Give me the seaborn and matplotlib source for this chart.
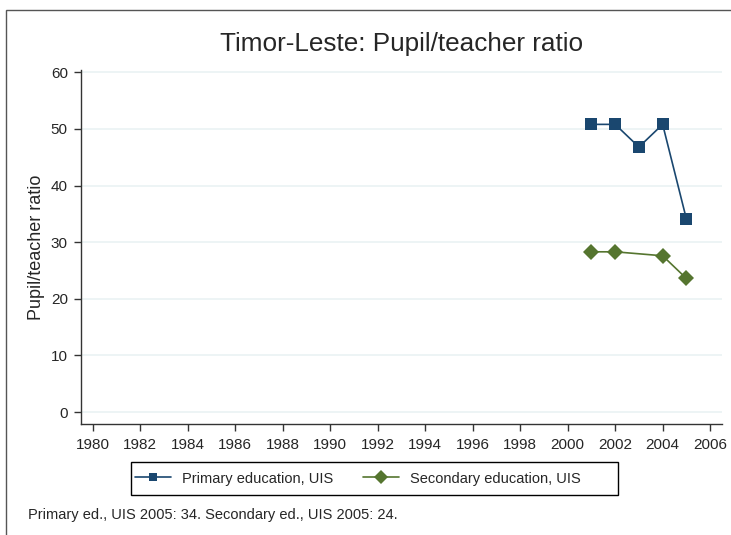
import pandas as pd
import matplotlib
matplotlib.use("Agg")
import matplotlib.pyplot as plt
import seaborn as sns
from matplotlib.patches import Rectangle

years_primary = [2001, 2002, 2003, 2004, 2005]
primary = [50.8, 50.8, 46.8, 50.8, 34.1]
years_secondary = [2001, 2002, 2004, 2005]
secondary = [28.3, 28.3, 27.6, 23.6]
series_names = ["Primary education, UIS", "Secondary education, UIS"]
x_ticks = list(range(1980, 2007, 2))
y_ticks = [0, 10, 20, 30, 40, 50, 60]

df = pd.concat([
    pd.DataFrame({"year": years_primary, "ratio": primary, "series": series_names[0]}),
    pd.DataFrame({"year": years_secondary, "ratio": secondary, "series": series_names[1]}),
])

sns.set_style("white")
plt.rcParams["font.family"] = ["Liberation Sans", "DejaVu Sans"]

fig = plt.figure(figsize=(7.31, 5.35), dpi=100)
ax = fig.add_axes([81 / 731, 1 - 424 / 535, (722 - 81) / 731, (424 - 70) / 535])

palette = {series_names[0]: "#1a476f", series_names[1]: "#55752f"}
markers = {series_names[0]: "s", series_names[1]: "D"}
sns.lineplot(data=df, x="year", y="ratio", hue="series", style="series",
             palette=palette, markers=markers, dashes=False, ax=ax,
             linewidth=1.2, markersize=8, markeredgewidth=0)

ax.set_xlim(1979.5, 2006.5)
ax.set_ylim(-2.1, 60.4)
ax.set_xticks(x_ticks)
ax.set_yticks(y_ticks)
ax.tick_params(axis="both", labelsize=11, length=5, width=1, color="#333333",
               direction="out", left=True, bottom=True)
ax.tick_params(axis="x", pad=5)
ax.tick_params(axis="y", pad=4.5)
ax.yaxis.grid(True, color="#eaf2f3", linewidth=1.2)
ax.set_axisbelow(True)
for s in ["top", "right"]:
    ax.spines[s].set_visible(False)
for s in ["left", "bottom"]:
    ax.spines[s].set_color("#333333")
    ax.spines[s].set_linewidth(1)
ax.set_xlabel("")
ax.set_ylabel("Pupil/teacher ratio", fontsize=13)
ax.set_title("Timor-Leste: Pupil/teacher ratio", fontsize=18.8, pad=14)

handles, labels = ax.get_legend_handles_labels()
ax.get_legend().remove()
for h in handles:
    # legend markers are a bit smaller than the plotted ones
    h.set_markersize(7 if h.get_marker() == "D" else 6)
fig.legend(handles, labels, loc="center left", bbox_to_anchor=(135 / 731, 1 - 478.5 / 535),
           ncol=2, fontsize=10.5, frameon=False, borderpad=0, borderaxespad=0,
           handlelength=2.47, handletextpad=0.75, columnspacing=2.05)
fig.patches.append(Rectangle((131 / 731, 1 - 495 / 535), (618 - 131) / 731, 33 / 535,
                             transform=fig.transFigure, fill=False, edgecolor="black", linewidth=1))

fig.text(28 / 731, 1 - 519 / 535, "Primary ed., UIS 2005: 34. Secondary ed., UIS 2005: 24.",
         fontsize=10.5, ha="left", va="baseline")

fig.patches.append(Rectangle((6 / 731, -1), 2, 1 + (1 - 10 / 535), transform=fig.transFigure,
                             fill=False, edgecolor="#555555", linewidth=1))

fig.savefig("out.png", dpi=100)
